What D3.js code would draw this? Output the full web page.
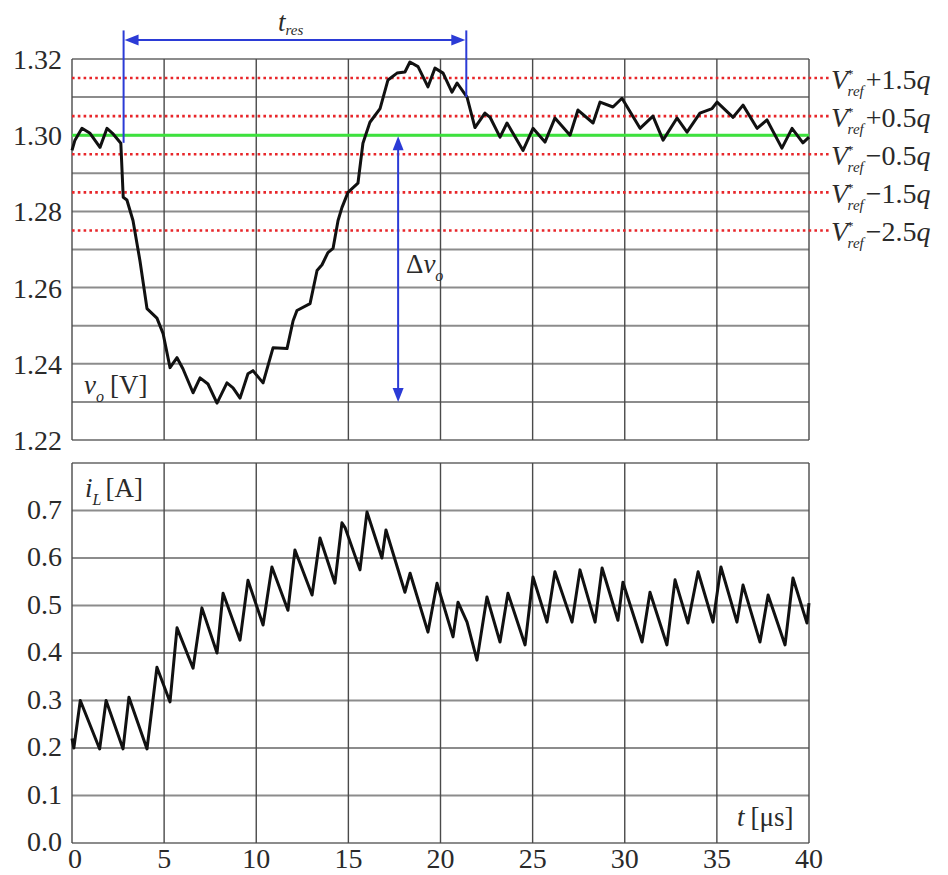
<!DOCTYPE html>
<html>
<head>
  <meta charset="UTF-8">
  <script src="https://d3js.org/d3.v7.min.js"></script>
  <title>v_o and i_L transient</title>
  <style type="text/css">
    html, body { margin:0; padding:0; background:#fff; }
  </style>
</head>
<body>
<svg id="chart" width="948" height="875"></svg>
<script>
  // time axis (us)
  var tTicks = [0, 5, 10, 15, 20, 25, 30, 35, 40];

  // top panel: output voltage v_o [V]
  var voGrid = [1.22, 1.23, 1.24, 1.25, 1.26, 1.27, 1.28, 1.29, 1.30, 1.31, 1.32];
  var voLabels = [1.22, 1.24, 1.26, 1.28, 1.30, 1.32];
  var vRef = 1.30, q = 0.01;
  var refSteps = [1.5, 0.5, -0.5, -1.5, -2.5];
  var voData = [
    [0,1.2960],[0.16,1.2987],[0.54,1.3018],[0.98,1.3005],[1.52,1.2968],[1.9,1.3018],[2.2,1.3005],
    [2.65,1.2979],[2.78,1.2837],[2.98,1.2830],[3.31,1.2776],[3.69,1.2670],[4.07,1.2545],[4.61,1.2520],
    [4.94,1.2480],[5.32,1.2390],[5.70,1.2416],[6.02,1.2387],[6.57,1.2324],[6.95,1.2363],[7.38,1.2347],
    [7.87,1.2297],[8.41,1.2350],[8.74,1.2337],[9.12,1.2310],[9.55,1.2374],[9.82,1.2382],[10.37,1.2350],
    [10.91,1.2442],[11.67,1.2440],[12.0,1.2513],[12.21,1.2540],[12.92,1.2558],[13.30,1.2645],[13.57,1.2660],
    [13.89,1.2692],[14.17,1.2703],[14.44,1.2776],[14.65,1.2810],[14.98,1.2850],[15.52,1.2874],[15.79,1.2979],
    [16.17,1.3034],[16.72,1.3070],[17.15,1.3145],[17.64,1.3163],[18.07,1.3166],[18.34,1.3192],[18.78,1.3180],
    [19.32,1.3127],[19.70,1.3176],[20.14,1.3163],[20.62,1.3113],[20.90,1.3137],[21.44,1.3100],[21.87,1.3020],
    [22.41,1.3058],[22.69,1.3047],[23.23,1.2995],[23.61,1.3032],[24.48,1.2960],[25.02,1.3018],[25.67,1.2982],
    [26.21,1.3045],[27.03,1.3000],[27.46,1.3066],[28.28,1.3032],[28.66,1.3087],[29.36,1.3074],[29.85,1.3097],
    [30.83,1.3018],[31.53,1.3050],[32.08,1.2987],[32.84,1.3045],[33.38,1.3008],[34.08,1.3058],[34.74,1.3070],
    [35.01,1.3087],[35.88,1.3047],[36.42,1.3079],[37.18,1.3018],[37.72,1.3040],[38.53,1.2966],[39.08,1.3018],
    [39.67,1.2980],[40.0,1.2995]
  ];

  // bottom panel: inductor current i_L [A]
  var iLGrid = [0, 0.1, 0.2, 0.3, 0.4, 0.5, 0.6, 0.7, 0.8];
  var iLLabels = [0, 0.1, 0.2, 0.3, 0.4, 0.5, 0.6, 0.7];
  var iLData = [
    [0,0.22],[0.1,0.20],[0.45,0.30],[1.5,0.198],[1.85,0.30],[2.77,0.198],[3.09,0.307],[4.07,0.198],
    [4.61,0.37],[5.32,0.297],[5.70,0.453],[6.57,0.368],[7.05,0.495],[7.87,0.40],[8.2,0.526],[9.12,0.427],
    [9.55,0.553],[10.37,0.459],[10.85,0.581],[11.72,0.49],[12.1,0.617],[13.03,0.522],[13.46,0.642],
    [14.27,0.547],[14.65,0.674],[14.82,0.664],[15.63,0.575],[16.01,0.697],[16.82,0.60],[17.04,0.659],
    [18.07,0.528],[18.35,0.568],[19.32,0.444],[19.81,0.547],[20.68,0.434],[20.95,0.507],[21.44,0.465],
    [21.98,0.385],[22.52,0.518],[23.23,0.423],[23.66,0.526],[24.59,0.417],[25.02,0.56],[25.78,0.465],
    [26.21,0.571],[27.14,0.465],[27.57,0.575],[28.39,0.465],[28.77,0.579],[29.63,0.469],[29.9,0.549],
    [30.94,0.423],[31.37,0.528],[32.29,0.417],[32.73,0.554],[33.43,0.463],[33.98,0.571],[34.79,0.465],
    [35.22,0.581],[36.09,0.465],[36.42,0.543],[37.34,0.423],[37.78,0.522],[38.70,0.417],[39.13,0.558],
    [39.89,0.463],[40.0,0.505]
  ];

  // annotations: response time and voltage dip
  var tResStart = 2.8, tResEnd = 21.4, tResLevel = 1.325, tResTop = 1.3275;
  var tResStartBottom = 1.298, tResEndBottom = 1.31;
  var dvTime = 17.7, dvFrom = 1.30, dvTo = 1.23;

  var svg = d3.select("#chart");
  var blue = "#2b3bd6";
  var ink = "#2a2a2a";

  var x = d3.scaleLinear().domain([0, 40]).range([72, 809]);
  var yV = d3.scaleLinear().domain([1.22, 1.32]).range([440, 59]);
  var yI = d3.scaleLinear().domain([0, 0.8]).range([843, 463]);

  function panel(y, grid) {
    var g = svg.append("g");
    // horizontal grid
    g.selectAll("line.h").data(grid).enter().append("line")
      .attr("x1", x(0)).attr("x2", x(40))
      .attr("y1", function(d) { return y(d); }).attr("y2", function(d) { return y(d); })
      .attr("stroke", "#8c8c8c").attr("stroke-width", 2);
    // vertical grid
    g.selectAll("line.v").data(tTicks).enter().append("line")
      .attr("x1", function(d) { return x(d); }).attr("x2", function(d) { return x(d); })
      .attr("y1", y.range()[0]).attr("y2", y.range()[1])
      .attr("stroke", "#4a4a4a").attr("stroke-width", 1.4);
    return g;
  }

  panel(yV, voGrid);
  panel(yI, iLGrid);

  // reference levels (red dotted)
  svg.selectAll("line.ref").data(refSteps).enter().append("line")
    .attr("x1", x(0)).attr("x2", 830)
    .attr("y1", function(d) { return yV(vRef + d * q); })
    .attr("y2", function(d) { return yV(vRef + d * q); })
    .attr("stroke", "#e8262a").attr("stroke-width", 2.6)
    .attr("stroke-dasharray", "2.6 3.2");

  // V_ref line (green)
  svg.append("line")
    .attr("x1", x(0)).attr("x2", x(40))
    .attr("y1", yV(vRef)).attr("y2", yV(vRef))
    .attr("stroke", "#3de23d").attr("stroke-width", 3);

  // reference labels
  refSteps.forEach(function(d) {
    var t = svg.append("text")
      .attr("x", 831).attr("y", yV(vRef + d * q) + 11)
      .style("font-size", "28px");
    t.append("tspan").style("font-style", "italic").text("V");
    t.append("tspan").style("font-size", "13px").attr("dy", -11).attr("dx", -1).text("*");
    t.append("tspan").style("font-size", "15px").style("font-style", "italic")
      .attr("dx", -6).attr("dy", 18).text("ref");
    t.append("tspan").attr("dy", -7).attr("dx", 2)
      .text((d > 0 ? "+" : "\u2212") + Math.abs(d).toFixed(1));
    t.append("tspan").style("font-style", "italic").text("q");
  });

  svg.append("path")
    .datum(voData)
    .attr("d", d3.line().x(function(d) { return x(d[0]); }).y(function(d) { return yV(d[1]); }))
    .attr("fill", "none").attr("stroke", "#111").attr("stroke-width", 3)
    .attr("stroke-linejoin", "round");

  svg.append("path")
    .datum(iLData)
    .attr("d", d3.line().x(function(d) { return x(d[0]); }).y(function(d) { return yI(d[1]); }))
    .attr("fill", "none").attr("stroke", "#111").attr("stroke-width", 3)
    .attr("stroke-linejoin", "round");

  // t_res annotation
  var ax = svg.append("g").attr("stroke", blue).attr("stroke-width", 2).attr("fill", blue);
  ax.append("line").attr("x1", x(tResStart)).attr("x2", x(tResStart))
    .attr("y1", yV(tResTop)).attr("y2", yV(tResStartBottom));
  ax.append("line").attr("x1", x(tResEnd)).attr("x2", x(tResEnd))
    .attr("y1", yV(tResTop)).attr("y2", yV(tResEndBottom));
  ax.append("line").attr("x1", x(tResStart) + 4).attr("x2", x(tResEnd) - 4)
    .attr("y1", yV(tResLevel)).attr("y2", yV(tResLevel));

  function head(px, py, dx, dy) {
    // triangle with tip at (px,py) pointing along (dx,dy)
    var L = 14, W = 5.5;
    var bx = px - dx * L, by = py - dy * L;
    return "M" + px + "," + py + "L" + (bx - dy * W) + "," + (by + dx * W) +
      "L" + (bx + dy * W) + "," + (by - dx * W) + "Z";
  }
  ax.append("path").attr("stroke", "none").attr("d", head(x(tResStart) + 1, yV(tResLevel), -1, 0));
  ax.append("path").attr("stroke", "none").attr("d", head(x(tResEnd) - 1, yV(tResLevel), 1, 0));

  // delta v_o annotation
  ax.append("line").attr("x1", x(dvTime)).attr("x2", x(dvTime))
    .attr("y1", yV(dvFrom) + 4).attr("y2", yV(dvTo) - 4);
  ax.append("path").attr("stroke", "none").attr("d", head(x(dvTime), yV(dvFrom) + 1, 0, -1));
  ax.append("path").attr("stroke", "none").attr("d", head(x(dvTime), yV(dvTo), 0, 1));

  var tr = svg.append("text").attr("x", 278).attr("y", 31).style("font-size", "27px");
  tr.append("tspan").style("font-style", "italic").text("t");
  tr.append("tspan").style("font-size", "15px").style("font-style", "italic").attr("dy", 4).text("res");

  var dv = svg.append("text").attr("x", 406).attr("y", 273).style("font-size", "27px");
  dv.append("tspan").text("\u0394");
  dv.append("tspan").style("font-style", "italic").text("v");
  dv.append("tspan").style("font-size", "16px").style("font-style", "italic").attr("dy", 8).text("o");

  // panel labels
  var vl = svg.append("text").attr("x", 84).attr("y", 394).style("font-size", "27px");
  vl.append("tspan").style("font-style", "italic").text("v");
  vl.append("tspan").style("font-size", "16px").style("font-style", "italic").attr("dy", 8).text("o");
  vl.append("tspan").attr("dy", -8).attr("dx", 6).text("[V]");

  var il = svg.append("text").attr("x", 85).attr("y", 497).style("font-size", "27px");
  il.append("tspan").style("font-style", "italic").text("i");
  il.append("tspan").style("font-size", "16px").style("font-style", "italic").attr("dy", 8).text("L");
  il.append("tspan").attr("dy", -8).attr("dx", 4).text("[A]");

  var tl = svg.append("text").attr("x", 737).attr("y", 826).style("font-size", "27px");
  tl.append("tspan").style("font-style", "italic").text("t");
  tl.append("tspan").attr("dx", 6).text("[\u03bcs]");

  // tick labels
  svg.selectAll("text.yv").data(voLabels).enter().append("text")
    .attr("x", 62).attr("y", function(d) { return yV(d) + 10; })
    .attr("text-anchor", "end").style("font-size", "28px")
    .text(function(d) { return d3.format(".2f")(d); });

  svg.selectAll("text.yi").data(iLLabels).enter().append("text")
    .attr("x", 62).attr("y", function(d) { return yI(d) + 8; })
    .attr("text-anchor", "end").style("font-size", "28px")
    .text(function(d) { return d3.format(".1f")(d); });

  svg.selectAll("text.xt").data(tTicks).enter().append("text")
    .attr("x", function(d) { return x(d) + (d === 0 ? 3 : 0); }).attr("y", 868)
    .attr("text-anchor", "middle").style("font-size", "28px")
    .text(function(d) { return d; });

  svg.selectAll("text")
    .style("font-family", "'Liberation Serif'")
    .attr("fill", ink);
</script>
</body>
</html>
